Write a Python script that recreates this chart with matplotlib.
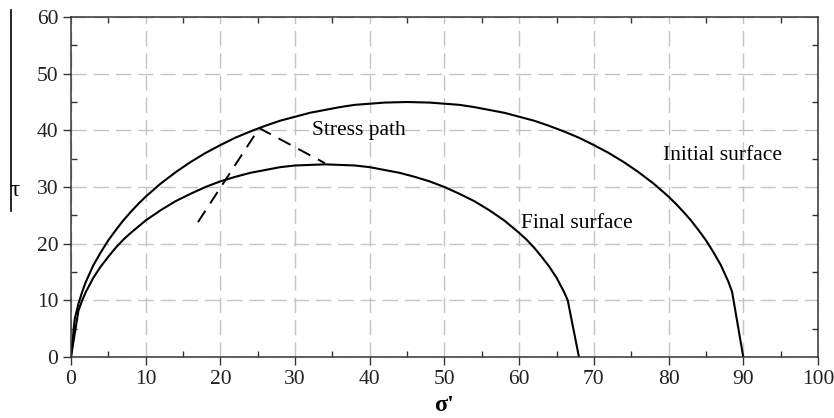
import matplotlib.pyplot as plt
from matplotlib.lines import Line2D
from matplotlib.ticker import MultipleLocator

plt.rcParams['font.family'] = ['Liberation Serif', 'DejaVu Serif']

# initial yield surface (sigma', tau)
init_s = [0, 0.5, 1, 1.5, 2, 3, 4, 5, 6, 7, 8, 9, 10, 12, 14, 16, 18, 20, 22, 24, 26, 28,
          30, 32, 34, 36, 38, 40, 42, 45, 48, 50, 52, 54, 56, 58, 60, 62, 64, 66, 68,
          70, 72, 74, 76, 78, 80, 81, 82, 83, 84, 85, 86, 87, 88, 88.5, 90]
init_t = [0, 6.7, 9.4, 11.5, 13.3, 16.2, 18.5, 20.6, 22.4, 24.1, 25.6, 27.0, 28.3, 30.6,
          32.6, 34.4, 36.0, 37.4, 38.7, 39.8, 40.8, 41.7, 42.4, 43.1, 43.6, 44.1, 44.5,
          44.7, 44.9, 45, 44.9, 44.7, 44.5, 44.1, 43.6, 43.1, 42.4, 41.7, 40.8, 39.8,
          38.7, 37.4, 36.0, 34.4, 32.6, 30.6, 28.3, 27.0, 25.6, 24.1, 22.4, 20.6, 18.5,
          16.2, 13.3, 11.5, 0]

# final yield surface
final_s = [0, 1, 1.5, 2, 3, 4, 5, 6, 7, 8, 10, 12, 14, 16, 18, 20, 22, 24, 26, 28, 30,
           32, 34, 36, 38, 40, 42, 44, 46, 48, 50, 52, 54, 56, 58, 60, 61, 62, 63, 64,
           65, 66, 66.5, 68]
final_t = [0, 8.2, 10.0, 11.5, 14.0, 16.0, 17.7, 19.3, 20.7, 21.9, 24.1, 25.9, 27.5,
           28.8, 30.0, 31.0, 31.8, 32.5, 33.0, 33.5, 33.8, 33.9, 34, 33.9, 33.8, 33.5,
           33.0, 32.5, 31.8, 31.0, 30.0, 28.8, 27.5, 25.9, 24.1, 21.9, 20.7, 19.3, 17.7,
           16.0, 14.0, 11.5, 10.0, 0]

# stress path
path_s = [17.0, 25.2, 34.0]
path_t = [23.8, 40.4, 34.2]

fig = plt.figure(figsize=(8.34, 4.18), dpi=100)
ax = fig.add_axes([0.0851, 0.1459, 0.8957, 0.8134])

ax.plot(init_s, init_t, color='black', lw=1.5)
ax.plot(final_s, final_t, color='black', lw=1.5)
ax.plot(path_s, path_t, color='black', lw=1.4, dashes=(7, 4.5))

fs = 15.5
ax.text(32.3, 40, 'Stress path', fontsize=fs, va='center')
ax.text(79.3, 35.6, 'Initial surface', fontsize=fs, va='center')
ax.text(60.2, 23.5, 'Final surface', fontsize=fs, va='center')

ax.set_xlim(0, 100)
ax.set_ylim(0, 60)
ax.xaxis.set_major_locator(MultipleLocator(10))
ax.yaxis.set_major_locator(MultipleLocator(10))
ax.xaxis.set_minor_locator(MultipleLocator(5))
ax.yaxis.set_minor_locator(MultipleLocator(5))
ax.tick_params(which='major', direction='out', length=6, width=1, color='#333333',
               labelsize=fs, labelcolor='#222222', pad=3)
ax.tick_params(which='minor', direction='in', length=4, width=1, color='#333333',
               top=True, right=True)
ax.grid(True, which='major', color='#c4c4c4', lw=1, dashes=(11, 5))
for sp in ax.spines.values():
    sp.set_color('#333333')
    sp.set_linewidth(1.1)

fig.text(0.532, 0.005, "σ'", fontsize=fs + 2, fontweight='bold', ha='center', va='bottom')
fig.text(0.018, 0.545, 'τ', fontsize=fs + 1, ha='center', va='center')
fig.add_artist(Line2D([0.0126, 0.0126], [0.976, 0.495], color='black', lw=1.2,
                      transform=fig.transFigure))

fig.savefig('out.png', dpi=100)
